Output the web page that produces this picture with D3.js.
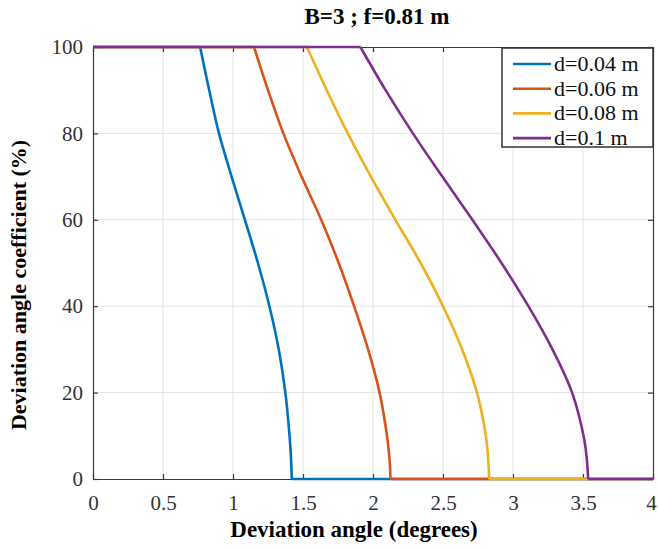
<!DOCTYPE html>
<html>
<head>
<meta charset="utf-8">
<script src="https://cdn.jsdelivr.net/npm/d3@7"></script>
<style>
  body { margin: 0; background: #fff; }
  text { font-family: "Liberation Serif", "Times New Roman", serif; }
</style>
</head>
<body>
<div id="chart"></div>
<script>
// coefficient levels (%) and the deviation angle (deg) where each curve crosses them
const levels = [100, 90, 80, 70, 60, 50, 40, 30, 20, 10, 5, 0];
const angleD004 = [0.765, 0.83, 0.9, 0.99, 1.085, 1.178, 1.26, 1.327, 1.374, 1.404, 1.414, 1.42];
const angleD006 = [1.15, 1.25, 1.36, 1.49, 1.63, 1.755, 1.865, 1.965, 2.047, 2.1, 2.117, 2.125];
const angleD008 = [1.528, 1.67, 1.82, 1.985, 2.16, 2.34, 2.50, 2.637, 2.743, 2.806, 2.822, 2.83];
const angleD010 = [1.91, 2.09, 2.285, 2.495, 2.71, 2.918, 3.11, 3.282, 3.422, 3.504, 3.526, 3.537];

const seriesNames = ["d=0.04 m", "d=0.06 m", "d=0.08 m", "d=0.1 m"];
const seriesColors = ["#0072BD", "#D95319", "#EDB120", "#7E2F8E"];
const seriesAngles = [angleD004, angleD006, angleD008, angleD010];

const xTicks = [0, 0.5, 1, 1.5, 2, 2.5, 3, 3.5, 4];
const yTicks = [0, 20, 40, 60, 80, 100];

const W = 658, H = 549;
const margin = { top: 47, right: 5, bottom: 70, left: 93 };
const width = W - margin.left - margin.right,
      height = H - margin.top - margin.bottom;

const svg = d3.select("#chart").append("svg")
    .attr("width", W)
    .attr("height", H);

const g = svg.append("g")
    .attr("transform", `translate(${margin.left},${margin.top})`);

const x = d3.scaleLinear().domain([0, 4]).range([0, width]);
const y = d3.scaleLinear().domain([0, 100]).range([height, 0]);

// grid
g.append("g").selectAll("line").data(xTicks.slice(1, -1)).join("line")
    .attr("x1", d => x(d)).attr("x2", d => x(d))
    .attr("y1", 0).attr("y2", height)
    .attr("stroke", "#e3e3e3").attr("stroke-width", 1);
g.append("g").selectAll("line").data(yTicks.slice(1, -1)).join("line")
    .attr("y1", d => y(d)).attr("y2", d => y(d))
    .attr("x1", 0).attr("x2", width)
    .attr("stroke", "#e3e3e3").attr("stroke-width", 1);

// axes (matlab style, ticks inward, box on)
const axisColor = "#3a3a3a";
const xAxis = g.append("g")
    .attr("transform", `translate(0,${height})`)
    .call(d3.axisBottom(x).tickValues(xTicks).tickFormat(d3.format("")).tickSizeInner(-5).tickSizeOuter(0).tickPadding(16));
const yAxis = g.append("g")
    .call(d3.axisLeft(y).tickValues(yTicks).tickSizeInner(-5).tickSizeOuter(0).tickPadding(10));
const xTop = g.append("g")
    .call(d3.axisTop(x).tickValues(xTicks).tickFormat("").tickSizeInner(-5).tickSizeOuter(0));
const yRight = g.append("g")
    .attr("transform", `translate(${width},0)`)
    .call(d3.axisRight(y).tickValues(yTicks).tickFormat("").tickSizeInner(-5).tickSizeOuter(0));

[xAxis, yAxis, xTop, yRight].forEach(a => {
  a.selectAll("path, line").attr("stroke", axisColor).attr("stroke-width", 1.2);
  a.selectAll("text").attr("fill", "#333").style("font-size", "21px")
    .style("font-family", "'Liberation Serif', serif");
});
// last x label sits on the window edge
xAxis.selectAll("text").filter(d => d === 4).attr("dx", -2);

// curves
const curve = d3.line()
    .x(d => x(d[0]))
    .y(d => y(d[1]))
    .curve(d3.curveCatmullRom.alpha(0.5));
const flat = d3.line()
    .x(d => x(d[0]))
    .y(d => y(d[1]));

seriesAngles.forEach((angles, i) => {
  const pts = angles.map((a, j) => [a, levels[j]]);
  const top = [[0, 100], pts[0]];
  const bottom = [pts[pts.length - 1], [4, 0]];
  g.append("path").attr("d", flat(top))
    .attr("fill", "none").attr("stroke", seriesColors[i]).attr("stroke-width", 2.6);
  g.append("path").attr("d", curve(pts))
    .attr("fill", "none").attr("stroke", seriesColors[i]).attr("stroke-width", 2.6);
  g.append("path").attr("d", flat(bottom))
    .attr("fill", "none").attr("stroke", seriesColors[i]).attr("stroke-width", 2.6);
});

// legend
const lg = svg.append("g").attr("transform", "translate(502,48)");
lg.append("rect")
    .attr("width", 151).attr("height", 99)
    .attr("fill", "#fff").attr("stroke", "#333").attr("stroke-width", 1.5);
seriesNames.forEach((name, i) => {
  const yy = 16 + i * 24.7;
  lg.append("line")
    .attr("x1", 11).attr("x2", 49).attr("y1", yy).attr("y2", yy)
    .attr("stroke", seriesColors[i]).attr("stroke-width", 2.6);
  lg.append("text")
    .attr("x", 52).attr("y", yy + 7)
    .attr("fill", "#111").style("font-size", "22px")
    .text(name);
});

// title and labels
svg.append("text")
    .attr("x", 377).attr("y", 24)
    .attr("text-anchor", "middle")
    .style("font-size", "23px").style("font-weight", "bold")
    .text("B=3 ; f=0.81 m");

svg.append("text")
    .attr("x", 354).attr("y", 537)
    .attr("text-anchor", "middle")
    .style("font-size", "23px").style("font-weight", "bold")
    .text("Deviation angle (degrees)");

svg.append("text")
    .attr("transform", "translate(26,285) rotate(-90)")
    .attr("text-anchor", "middle")
    .style("font-size", "22px").style("font-weight", "bold")
    .text("Deviation angle coefficient (%)");
</script>
</body>
</html>
